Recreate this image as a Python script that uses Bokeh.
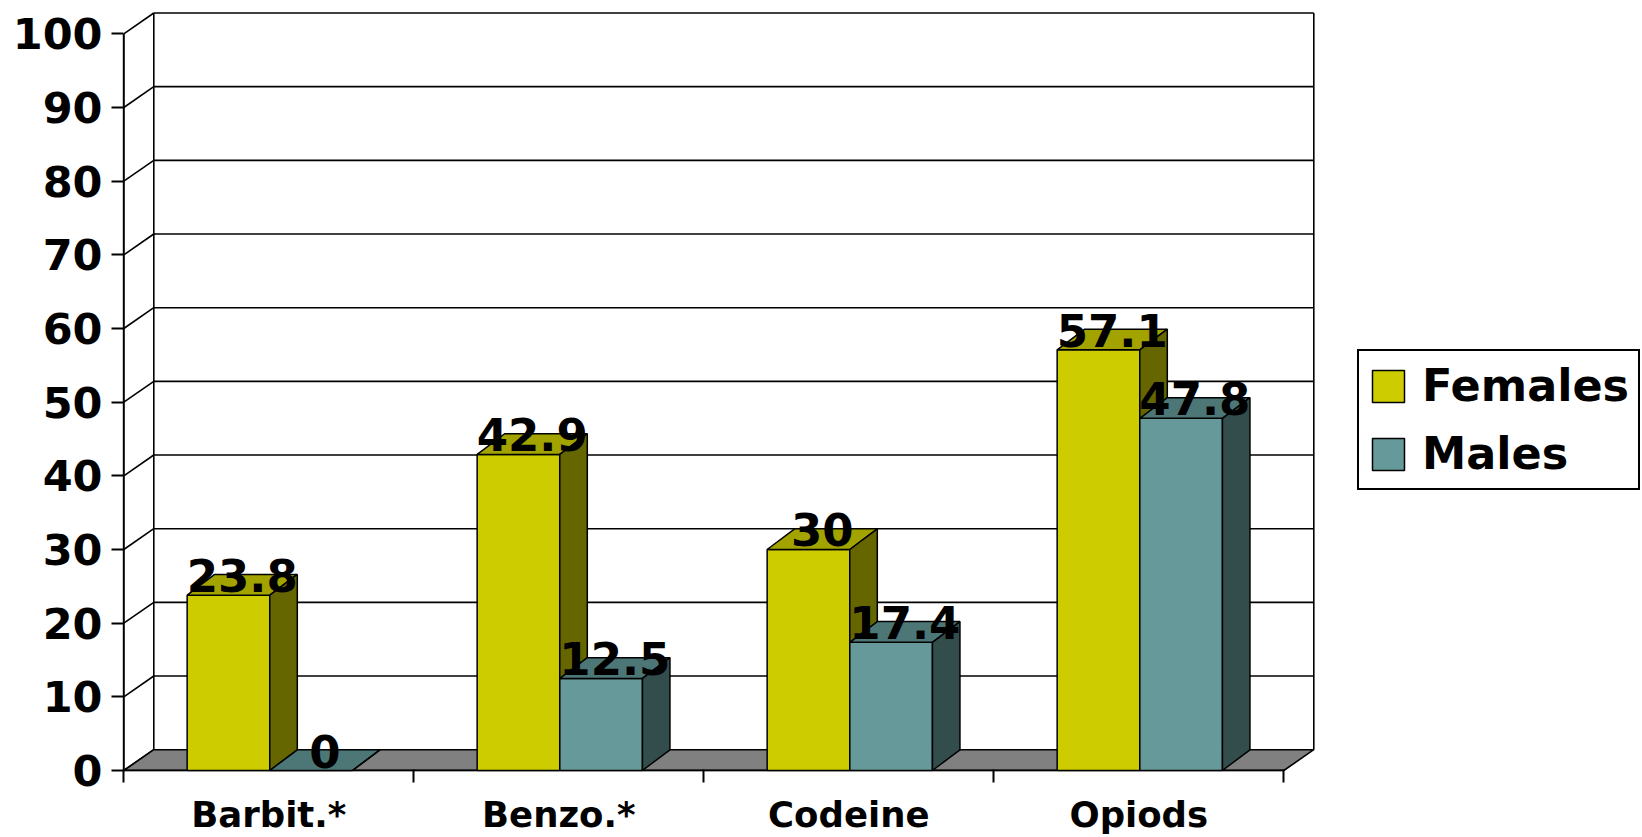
from bokeh.plotting import figure
from bokeh.models import Range1d, FixedTicker, Legend, LegendItem
from bokeh.core.properties import value
from bokeh.embed import file_html
from bokeh.resources import INLINE

# ---- data -------------------------------------------------------------
categories = ["Barbit.*", "Benzo.*", "Codeine", "Opiods"]
females = [23.8, 42.9, 30, 57.1]
males = [0, 12.5, 17.4, 47.8]
series_names = ["Females", "Males"]
value_ticks = [0, 10, 20, 30, 40, 50, 60, 70, 80, 90, 100]

# ---- styling ----------------------------------------------------------
FONT = "DejaVu Sans"
# front / top / side shading of the 3-D columns
SERIES_COLORS = [("#CCCC00", "#A3A300", "#666600"),
                 ("#669999", "#4D7676", "#334D4D")]
FLOOR_COLOR = "#808080"

# screen scale of one category and one value unit
PX_CAT = 290.0
PX_UNIT = 7.367
BAR_W = 0.285                 # column width, in category units
GROUP_SHIFT = 1.0 / PX_CAT
BAR_DX = 27.5 / PX_CAT        # depth of a column
BAR_DY = 20.7 / PX_UNIT
WALL_DX = 30.0 / PX_CAT       # depth of the walls / floor
WALL_DY = 20.8 / PX_UNIT

W, H = 1642, 837
B_LEFT, B_RIGHT, B_TOP, B_BOTTOM = 121, 0, 11, 66
x0 = -(123.3 - B_LEFT) / PX_CAT
y0 = -(H - B_BOTTOM - 770) / PX_UNIT
x_range = Range1d(x0, x0 + (W - B_LEFT - B_RIGHT) / PX_CAT)
y_range = Range1d(y0, y0 + (H - B_TOP - B_BOTTOM) / PX_UNIT)

p = figure(width=W, height=H, x_range=x_range, y_range=y_range,
           output_backend="svg", toolbar_location=None,
           min_border_left=B_LEFT, min_border_right=B_RIGHT,
           min_border_top=B_TOP, min_border_bottom=B_BOTTOM)
p.outline_line_color = None
p.grid.visible = False
p.background_fill_color = "white"
p.border_fill_color = "white"

n = len(categories)
vmax = value_ticks[-1]

# ---- axes -------------------------------------------------------------
xa = p.xaxis[0]
xa.ticker = FixedTicker(ticks=[i + 0.5 for i in range(n)],
                        minor_ticks=list(range(n + 1)))
xa.major_label_overrides = {i + 0.5: c for i, c in enumerate(categories)}
xa.axis_line_color = None
xa.major_tick_out = 0
xa.major_tick_in = 0
xa.minor_tick_out = 11
xa.minor_tick_in = 2
xa.minor_tick_line_color = "black"
xa.minor_tick_line_width = 2
xa.major_label_standoff = 11
xa.major_label_text_font = FONT
xa.major_label_text_font_style = "bold"
xa.major_label_text_font_size = "35.5px"
xa.major_label_text_color = "black"

ya = p.yaxis[0]
ya.ticker = FixedTicker(ticks=value_ticks, minor_ticks=[])
ya.axis_line_color = None
ya.major_tick_out = 10
ya.major_tick_in = 2
ya.major_tick_line_color = "black"
ya.major_tick_line_width = 2
ya.minor_tick_line_color = None
ya.major_label_standoff = 9
ya.major_label_text_font = FONT
ya.major_label_text_font_style = "bold"
ya.major_label_text_font_size = "43px"
ya.major_label_text_color = "black"

# ---- walls --------------------------------------------------------------
# side wall: diagonals from the value axis to the back wall
p.segment(x0=[0] * len(value_ticks), y0=value_ticks,
          x1=[WALL_DX] * len(value_ticks), y1=[t + WALL_DY for t in value_ticks],
          line_color="black", line_width=1.6)
# back wall gridlines
grid_vals = [t for t in value_ticks if t > 0]
p.segment(x0=[WALL_DX] * len(grid_vals), y0=[t + WALL_DY for t in grid_vals],
          x1=[n + WALL_DX] * len(grid_vals), y1=[t + WALL_DY for t in grid_vals],
          line_color="black", line_width=1.6)
# back wall vertical edges
p.segment(x0=[WALL_DX, n + WALL_DX], y0=[WALL_DY, WALL_DY],
          x1=[WALL_DX, n + WALL_DX], y1=[vmax + WALL_DY, vmax + WALL_DY],
          line_color="black", line_width=1.6)
# floor
p.patch(x=[0, n, n + WALL_DX, WALL_DX], y=[0, 0, WALL_DY, WALL_DY],
        fill_color=FLOOR_COLOR, line_color="black", line_width=1.6)
# front axis lines
p.segment(x0=[0, 0], y0=[0, 0], x1=[0, n], y1=[vmax, 0],
          line_color="black", line_width=2)

# ---- 3-D columns ----------------------------------------------------------
front_renderers = []
label_x, label_y, label_t = [], [], []
for j, vals in enumerate([females, males]):
    front, top, side = SERIES_COLORS[j]
    lefts = [i + 0.5 - BAR_W + j * BAR_W + GROUP_SHIFT for i in range(n)]
    rights = [l + BAR_W for l in lefts]
    r = p.quad(left=lefts, right=rights, bottom=[0] * n, top=vals,
               fill_color=front, line_color="black", line_width=1.5)
    front_renderers.append(r)
    p.patches(xs=[[l, rr, rr + BAR_DX, l + BAR_DX] for l, rr in zip(lefts, rights)],
              ys=[[v, v, v + BAR_DY, v + BAR_DY] for v in vals],
              fill_color=top, line_color="black", line_width=1.5)
    p.patches(xs=[[rr, rr + BAR_DX, rr + BAR_DX, rr] for rr in rights],
              ys=[[0, BAR_DY, v + BAR_DY, v] for v in vals],
              fill_color=side, line_color="black", line_width=1.5)
    for l, v in zip(lefts, vals):
        label_x.append(l + (BAR_W + BAR_DX) / 2)
        label_y.append(v)
        label_t.append(f"{v:g}")

p.text(x=label_x, y=label_y, text=label_t, y_offset=-3,
       text_font=value(FONT), text_font_style="bold", text_font_size="45px",
       text_align="center", text_baseline="bottom", text_color="black")

# ---- legend -------------------------------------------------------------
legend = Legend(items=[LegendItem(label=nm, renderers=[rr])
                       for nm, rr in zip(series_names, front_renderers)],
                location=(1236, 281), margin=0)
legend.border_line_color = "black"
legend.border_line_alpha = 1.0
legend.border_line_width = 2
legend.background_fill_color = "white"
legend.background_fill_alpha = 1.0
legend.padding = 9
legend.spacing = 17
legend.glyph_width = 40
legend.glyph_height = 40
legend.label_standoff = 14
legend.label_text_font = FONT
legend.label_text_font_style = "bold"
legend.label_text_font_size = "44.5px"
legend.label_text_color = "black"
p.add_layout(legend)

open("out.html", "w").write(file_html(p, INLINE))
